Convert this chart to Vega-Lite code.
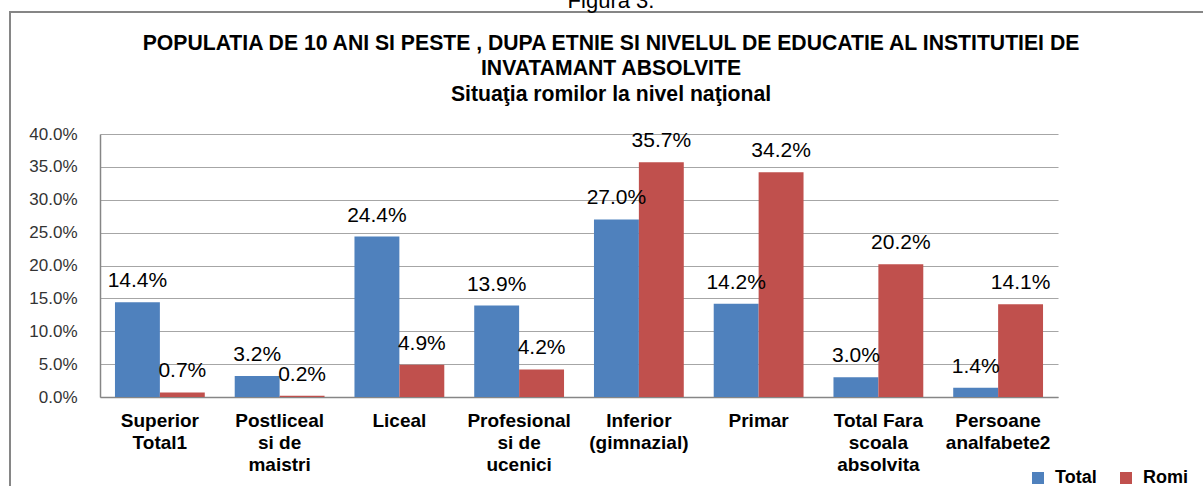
{
  "$schema": "https://vega.github.io/schema/vega-lite/v6.json",
  "width": 1200,
  "height": 480,
  "autosize": "none",
  "padding": {"left": 10, "top": 12, "right": -7, "bottom": -6},
  "background": "white",
  "config": {
    "view": {"stroke": "#868686", "strokeWidth": 2},
    "font": "Liberation Sans"
  },
  "title": {
    "text": "Figura 3.",
    "subtitle": [
      "POPULATIA DE 10 ANI SI PESTE , DUPA ETNIE SI NIVELUL DE EDUCATIE AL INSTITUTIEI DE",
      "INVATAMANT ABSOLVITE",
      "Situaţia romilor la nivel naţional"
    ],
    "anchor": "middle",
    "offset": -94,
    "dx": 1,
    "font": "Liberation Sans",
    "fontSize": 22,
    "fontWeight": "normal",
    "color": "#000000",
    "subtitleFont": "Liberation Sans",
    "subtitleFontSize": 21.2,
    "subtitleFontWeight": "bold",
    "subtitleColor": "#000000",
    "subtitleLineHeight": 25.5,
    "subtitlePadding": 20
  },
  "data": {
    "values": [
      {"nivel": "Superior|Total1", "serie": "Total", "pct": 0.144},
      {"nivel": "Superior|Total1", "serie": "Romi", "pct": 0.007},
      {"nivel": "Postliceal|si de|maistri", "serie": "Total", "pct": 0.032},
      {"nivel": "Postliceal|si de|maistri", "serie": "Romi", "pct": 0.002},
      {"nivel": "Liceal", "serie": "Total", "pct": 0.244},
      {"nivel": "Liceal", "serie": "Romi", "pct": 0.049},
      {"nivel": "Profesional|si de|ucenici", "serie": "Total", "pct": 0.139},
      {"nivel": "Profesional|si de|ucenici", "serie": "Romi", "pct": 0.042},
      {"nivel": "Inferior|(gimnazial)", "serie": "Total", "pct": 0.270},
      {"nivel": "Inferior|(gimnazial)", "serie": "Romi", "pct": 0.357},
      {"nivel": "Primar", "serie": "Total", "pct": 0.142},
      {"nivel": "Primar", "serie": "Romi", "pct": 0.342},
      {"nivel": "Total Fara|scoala|absolvita", "serie": "Total", "pct": 0.030},
      {"nivel": "Total Fara|scoala|absolvita", "serie": "Romi", "pct": 0.202},
      {"nivel": "Persoane|analfabete2", "serie": "Total", "pct": 0.014},
      {"nivel": "Persoane|analfabete2", "serie": "Romi", "pct": 0.141}
    ]
  },
  "encoding": {
    "x": {
      "field": "nivel",
      "type": "nominal",
      "sort": null,
      "scale": {"range": [90, 1048], "paddingInner": 0.25, "paddingOuter": 0.125},
      "axis": {
        "orient": "bottom",
        "offset": -95,
        "title": null,
        "labelAngle": 0,
        "labelExpr": "split(datum.label, '|')",
        "labelFont": "Liberation Sans",
        "labelFontSize": 19,
        "labelFontWeight": "bold",
        "labelColor": "#000000",
        "labelLineHeight": 22,
        "labelPadding": 14,
        "labelBaseline": "top",
        "ticks": false,
        "grid": false,
        "domainColor": "#868686",
        "domainWidth": 1.5
      }
    },
    "xOffset": {"field": "serie", "type": "nominal", "sort": ["Total", "Romi"]},
    "y": {
      "field": "pct",
      "type": "quantitative",
      "scale": {"domain": [0, 0.4], "range": [385, 122]},
      "axis": {
        "orient": "left",
        "offset": -90,
        "title": null,
        "format": ".1%",
        "values": [0, 0.05, 0.1, 0.15, 0.2, 0.25, 0.3, 0.35, 0.4],
        "labelFont": "Liberation Sans",
        "labelFontSize": 17,
        "labelColor": "#333333",
        "labelPadding": 23,
        "ticks": false,
        "grid": true,
        "gridColor": "#a6a6a6",
        "gridWidth": 1.2,
        "domainColor": "#868686",
        "domainWidth": 1.5
      }
    }
  },
  "layer": [
    {
      "mark": {"type": "bar"},
      "encoding": {
        "color": {
          "field": "serie",
          "type": "nominal",
          "scale": {"domain": ["Total", "Romi"], "range": ["#4F81BD", "#C0504D"]},
          "legend": {
            "orient": "none",
            "legendX": 1019,
            "legendY": 457,
            "direction": "horizontal",
            "title": null,
            "symbolType": "square",
            "symbolSize": 144,
            "symbolStrokeWidth": 0,
            "labelFont": "Liberation Sans",
            "labelFontSize": 18,
            "labelFontWeight": "bold",
            "labelColor": "#000000",
            "labelOffset": 8,
            "columnPadding": 20,
            "labelExpr": "datum.label == 'Romi' ? '\u00a0\u00a0\u00a0\u00a0\u00a0Romi' : datum.label"
          }
        }
      }
    },
    {
      "mark": {"type": "text", "baseline": "alphabetic", "align": "center", "dy": -15, "fontSize": 21, "font": "Liberation Sans", "color": "#000000"},
      "encoding": {
        "text": {"field": "pct", "type": "quantitative", "format": ".1%"}
      }
    }
  ]
}
